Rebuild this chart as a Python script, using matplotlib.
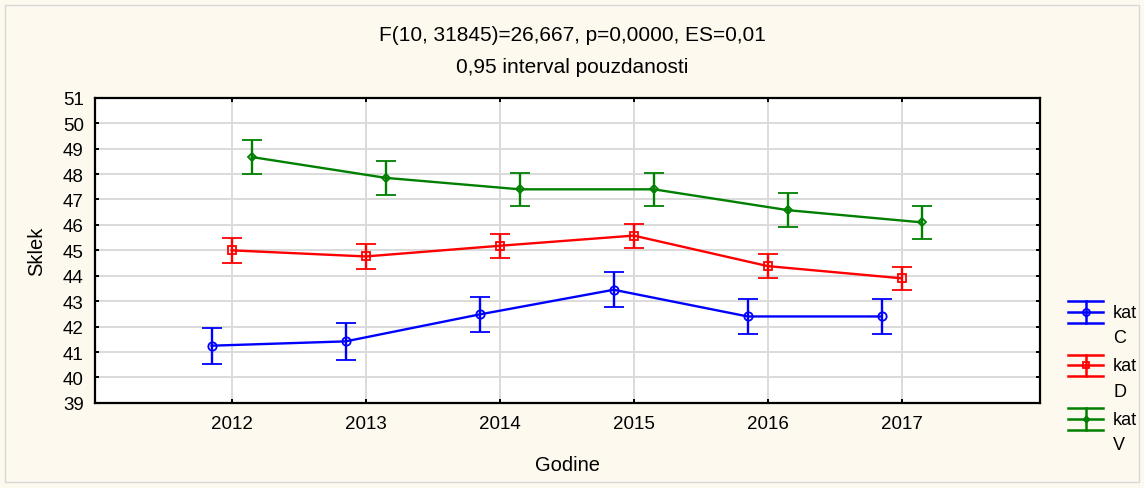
import numpy as np
import matplotlib.pyplot as plt
from matplotlib.patches import Rectangle
from matplotlib.lines import Line2D
from matplotlib.legend_handler import HandlerBase

plt.rcParams['font.family'] = ['Liberation Sans', 'DejaVu Sans']

# Data
years = ['2012', '2013', '2014', '2015', '2016', '2017']
kat_c = [41.25, 41.42, 42.48, 43.45, 42.40, 42.40]
kat_c_err = [0.70, 0.72, 0.68, 0.68, 0.70, 0.70]
kat_d = [45.00, 44.76, 45.18, 45.58, 44.38, 43.90]
kat_d_err = [0.48, 0.48, 0.47, 0.47, 0.47, 0.45]
kat_v = [48.67, 47.85, 47.40, 47.40, 46.58, 46.10]
kat_v_err = [0.67, 0.68, 0.65, 0.65, 0.67, 0.65]

series = [
    ('kat\nC', kat_c, kat_c_err, -0.15, 'blue', 'o', 6),
    ('kat\nD', kat_d, kat_d_err, 0.0, 'red', 's', 6),
    ('kat\nV', kat_v, kat_v_err, 0.15, 'green', 'D', 4),
]


class ErrHandle(HandlerBase):
    """Legend key: line with caps spanning the whole key, centred on the first text line."""

    def __init__(self, color, marker, ms, shift):
        super().__init__()
        self.color, self.marker, self.ms, self.shift = color, marker, ms, shift

    def create_artists(self, legend, orig_handle, xdescent, ydescent,
                       width, height, fontsize, trans):
        yc = height / 2 - ydescent + self.shift
        half = 7.9
        x0, x1 = -xdescent, -xdescent + width
        xm = (x0 + x1) / 2
        arts = []
        for yy in (yc - half, yc, yc + half):
            arts.append(Line2D([x0, x1], [yy, yy], color=self.color, lw=1.8, transform=trans))
        arts.append(Line2D([xm, xm], [yc - half, yc + half], color=self.color, lw=1.8, transform=trans))
        arts.append(Line2D([xm], [yc], color=self.color, marker=self.marker, ms=self.ms,
                           mfc='none', mew=1.3, ls='none', transform=trans))
        return arts


fig = plt.figure(figsize=(11.44, 4.89), dpi=100)
fig.patch.set_facecolor('#fdf9ee')
fig.patches.append(Rectangle((0.004, 0.012), 0.992, 0.975, transform=fig.transFigure,
                             fill=False, edgecolor='#d8d8d8', linewidth=1))
ax = fig.add_axes([0.083, 0.174, 0.826, 0.624])
ax.set_facecolor('white')

x = np.arange(len(years))
handles, labels, hmap = [], [], {}
for label, vals, err, off, color, marker, ms in series:
    eb = ax.errorbar(x + off, vals, yerr=err, color=color, marker=marker, markersize=ms,
                     markerfacecolor='none', markeredgewidth=1.3, linewidth=1.7,
                     capsize=7, capthick=1.7, elinewidth=1.7)
    handles.append(eb)
    labels.append(label)
    hmap[eb] = ErrHandle(color, marker, ms - 1, 9.5)

ax.set_xlim(-1.02, 6.03)
ax.set_ylim(39, 51)
ax.set_yticks(range(39, 52))
ax.set_xticks(x)
ax.set_xticklabels(years)
ax.grid(True, color='#dadada', linewidth=1.4)
ax.set_axisbelow(True)
ax.tick_params(axis='both', labelsize=13.5, direction='in', length=3, width=1.4,
               right=True, top=True, colors='black')
ax.tick_params(axis='y', pad=8)
ax.tick_params(axis='x', pad=9)
for s in ax.spines.values():
    s.set_linewidth(1.6)

ax.set_xlabel('Godine', fontsize=14.5, labelpad=16)
ax.set_ylabel('Sklek', fontsize=14.5, labelpad=12)
fig.text(0.5, 0.928, 'F(10, 31845)=26,667, p=0,0000, ES=0,01', ha='center', va='center', fontsize=15)
fig.text(0.5, 0.861, '0,95 interval pouzdanosti', ha='center', va='center', fontsize=15)

leg = ax.legend(handles, labels, handler_map=hmap, loc='center left',
                bbox_to_anchor=(1.03, 0.08), frameon=False, fontsize=13,
                handlelength=1.94, handletextpad=0.55, labelspacing=0.6,
                borderaxespad=0, borderpad=0)
for t in leg.get_texts():
    t.set_linespacing(1.65)

fig.savefig('out.png', dpi=100, facecolor=fig.get_facecolor())
